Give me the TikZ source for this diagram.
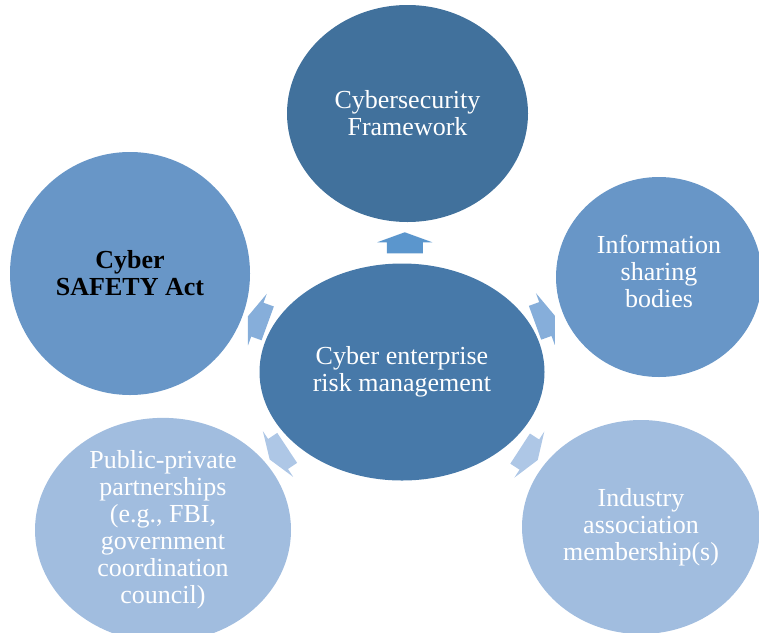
\documentclass[tikz,border=0pt]{standalone}
\usepackage{fontspec}
\setmainfont{Liberation Serif}
\usetikzlibrary{shapes.geometric,calc}

\definecolor{darkblue}{HTML}{41719C}
\definecolor{coreblue}{HTML}{4779A9}
\definecolor{midblue}{HTML}{6896C7}
\definecolor{paleblue}{HTML}{A1BDDF}
\definecolor{arrowdark}{HTML}{5B96CD}
\definecolor{arrowmid}{HTML}{86AEDA}
\definecolor{arrowpale}{HTML}{AEC7E6}

\tikzset{
  bubble/.style={ellipse, inner sep=0pt, align=center, text=white,
                 font=\fontsize{26}{27}\selectfont},
  % block arrow pointing along +x, centred on its own middle
  blockarrow/.pic={
    \fill[pic actions] (-10.5,-18) -- (0.5,-18) -- (0.5,-27.5) -- (10.5,0)
      -- (0.5,27.5) -- (0.5,18) -- (-10.5,18) -- cycle;
  }
}

\begin{document}
\begin{tikzpicture}[x=1pt, y=-1pt]
\useasboundingbox (0,0) rectangle (759,632);

% hub and satellites
\node[bubble, fill=coreblue, minimum width=285pt, minimum height=217pt]
  (core) at (402,372) {Cyber enterprise\\risk management};
\node[bubble, fill=darkblue, minimum width=241pt, minimum height=217pt]
  (frame) at (407.5,113.5) {Cybersecurity\\Framework};
\node[bubble, fill=midblue, minimum width=240pt, minimum height=243pt,
      text=black, font=\fontsize{26}{27}\selectfont\bfseries]
  (act) at (130,273.5) {Cyber\\SAFETY Act};
\node[bubble, fill=midblue, minimum width=206pt, minimum height=200pt,
      text depth=12pt]
  (info) at (659,277) {Information\\sharing\\bodies};
\node[bubble, fill=paleblue, minimum width=256pt, minimum height=216pt]
  (ppp) at (163,530) {Public-private\\partnerships\\(e.g., FBI,\\government\\coordination\\council)};
\node[bubble, fill=paleblue, minimum width=238pt, minimum height=214pt]
  (ind) at (641,527) {Industry\\association\\membership(s)};

% arrows radiating from the hub
\pic[rotate=90,    fill=arrowdark] at ($(core)!0.5!(frame)$)   {blockarrow};
\pic[rotate=160,   fill=arrowmid]  at ($(core)!0.53!(act)$)    {blockarrow};
\pic[rotate=20,    fill=arrowmid]  at ($(core)!0.556!(info)$)  {blockarrow};
\pic[rotate=213.5, fill=arrowpale] at ($(core)!0.517!(ppp)$)   {blockarrow};
\pic[rotate=-33,   fill=arrowpale] at ($(core)!0.531!(ind)$)   {blockarrow};
\end{tikzpicture}
\end{document}
